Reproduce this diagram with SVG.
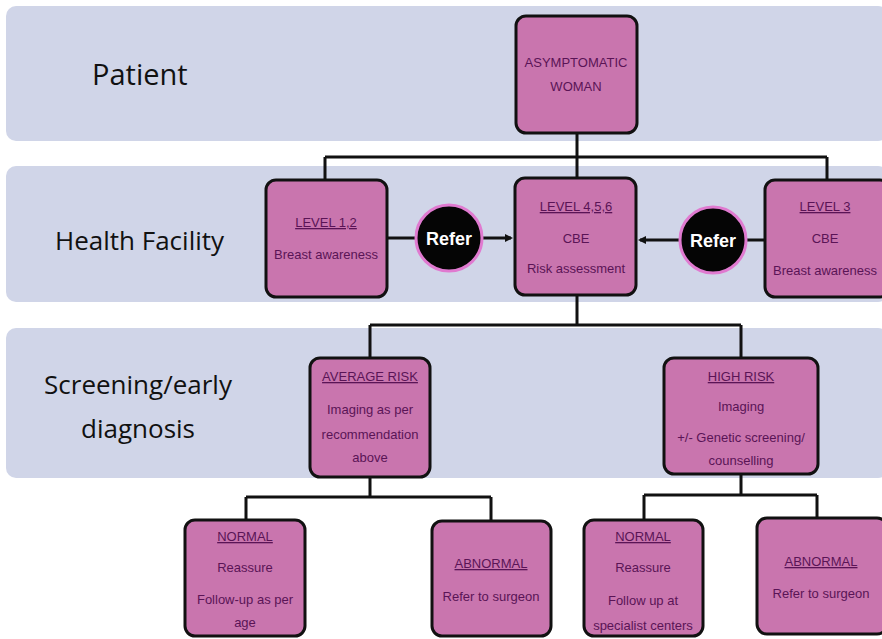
<svg xmlns="http://www.w3.org/2000/svg" width="882" height="639" viewBox="0 0 882 639">
<defs>
<style>
.band{fill:#d0d5e8;}
.box{fill:#c975ae;stroke:#111;stroke-width:3;}
.t{font-family:"Liberation Sans Narrow","Liberation Sans",Arial,sans-serif;font-size:13px;fill:#5a1456;text-anchor:middle;}
.h{text-decoration:underline;}
.lab{font-family:"Open Sans","Liberation Sans",sans-serif;fill:#111;}
.conn{fill:none;stroke:#111;stroke-width:3;}
.ref{fill:#050505;stroke:#e07ad0;stroke-width:3;}
.rt{font-family:"Liberation Sans Narrow","Liberation Sans",sans-serif;font-size:18px;font-weight:bold;fill:#fff;text-anchor:middle;}
</style>
<marker id="ah" markerWidth="8" markerHeight="8" refX="6" refY="4" orient="auto" markerUnits="userSpaceOnUse" viewBox="0 0 8 8">
<path d="M0,0 L8,4 L0,8 z" fill="#111"/>
</marker>
</defs>
<rect width="882" height="639" fill="#fff"/>
<g id="bands">
<rect class="band" x="6" y="6" width="882" height="135" rx="10"/>
<rect class="band" x="6" y="166" width="882" height="136" rx="10"/>
<rect class="band" x="6" y="328" width="882" height="150" rx="10"/>
<text class="lab" x="92" y="85" font-size="29">Patient</text>
<text class="lab" x="55" y="250" font-size="26">Health Facility</text>
<text class="lab" x="138" y="394" font-size="26" text-anchor="middle">Screening/early</text>
<text class="lab" x="138" y="438" font-size="26" text-anchor="middle">diagnosis</text>
</g>
<g id="connectors">
<path class="conn" d="M577,133 V157 M325,157 H827 M325,157 V180 M577,157 V178 M827,157 V180"/>
<path class="conn" d="M577,295 V325 M370,325 H741 M370,325 V358 M741,325 V358"/>
<path class="conn" d="M370,477 V497 M246,497 H491 M246,497 V520 M491,497 V521"/>
<path class="conn" d="M741,474 V495 M644,495 H817 M644,495 V520 M817,495 V518"/>
<path class="conn" d="M387,238 H416"/>
<path class="conn" d="M482,238 H511" marker-end="url(#ah)"/>
<path class="conn" d="M765,240 H746"/>
<path class="conn" d="M680,240 H640" marker-end="url(#ah)"/>
</g>
<g id="asymptomatic">
<rect class="box" x="516" y="16" width="121" height="117" rx="10"/>
<text class="t" x="576" y="67" font-size="12">ASYMPTOMATIC</text>
<text class="t" x="576" y="91" font-size="12">WOMAN</text>
</g>
<g id="level12">
<rect class="box" x="266" y="180" width="121" height="117" rx="10"/>
<text class="t h" x="326" y="227">LEVEL 1,2</text>
<text class="t" x="326" y="259">Breast awareness</text>
</g>
<g id="refer-left">
<circle class="ref" cx="449" cy="238" r="33"/>
<text class="rt" x="449" y="245">Refer</text>
</g>
<g id="level456">
<rect class="box" x="515" y="178" width="121" height="117" rx="10"/>
<text class="t h" x="576" y="211">LEVEL 4,5,6</text>
<text class="t" x="576" y="243">CBE</text>
<text class="t" x="576" y="273">Risk assessment</text>
</g>
<g id="refer-right">
<circle class="ref" cx="713" cy="240" r="33"/>
<text class="rt" x="713" y="247">Refer</text>
</g>
<g id="level3">
<rect class="box" x="765" y="180" width="125" height="117" rx="10"/>
<text class="t h" x="825" y="211">LEVEL 3</text>
<text class="t" x="825" y="243">CBE</text>
<text class="t" x="825" y="275">Breast awareness</text>
</g>
<g id="average-risk">
<rect class="box" x="310" y="358" width="120" height="119" rx="10"/>
<text class="t h" x="370" y="381">AVERAGE RISK</text>
<text class="t" x="370" y="414">Imaging as per</text>
<text class="t" x="370" y="439">recommendation</text>
<text class="t" x="370" y="462">above</text>
</g>
<g id="high-risk">
<rect class="box" x="664" y="358" width="154" height="116" rx="10"/>
<text class="t h" x="741" y="381">HIGH RISK</text>
<text class="t" x="741" y="411">Imaging</text>
<text class="t" x="741" y="442">+/- Genetic screening/</text>
<text class="t" x="741" y="465">counselling</text>
</g>
<g id="normal-left">
<rect class="box" x="185" y="520" width="120" height="116" rx="10"/>
<text class="t h" x="245" y="541">NORMAL</text>
<text class="t" x="245" y="572">Reassure</text>
<text class="t" x="245" y="604">Follow-up as per</text>
<text class="t" x="245" y="627">age</text>
</g>
<g id="abnormal-left">
<rect class="box" x="432" y="521" width="119" height="115" rx="10"/>
<text class="t h" x="491" y="568">ABNORMAL</text>
<text class="t" x="491" y="601">Refer to surgeon</text>
</g>
<g id="normal-right">
<rect class="box" x="584" y="520" width="119" height="116" rx="10"/>
<text class="t h" x="643" y="541">NORMAL</text>
<text class="t" x="643" y="572">Reassure</text>
<text class="t" x="643" y="605">Follow up at</text>
<text class="t" x="643" y="630">specialist centers</text>
</g>
<g id="abnormal-right">
<rect class="box" x="757" y="518" width="130" height="116" rx="10"/>
<text class="t h" x="821" y="566">ABNORMAL</text>
<text class="t" x="821" y="598">Refer to surgeon</text>
</g>
</svg>
